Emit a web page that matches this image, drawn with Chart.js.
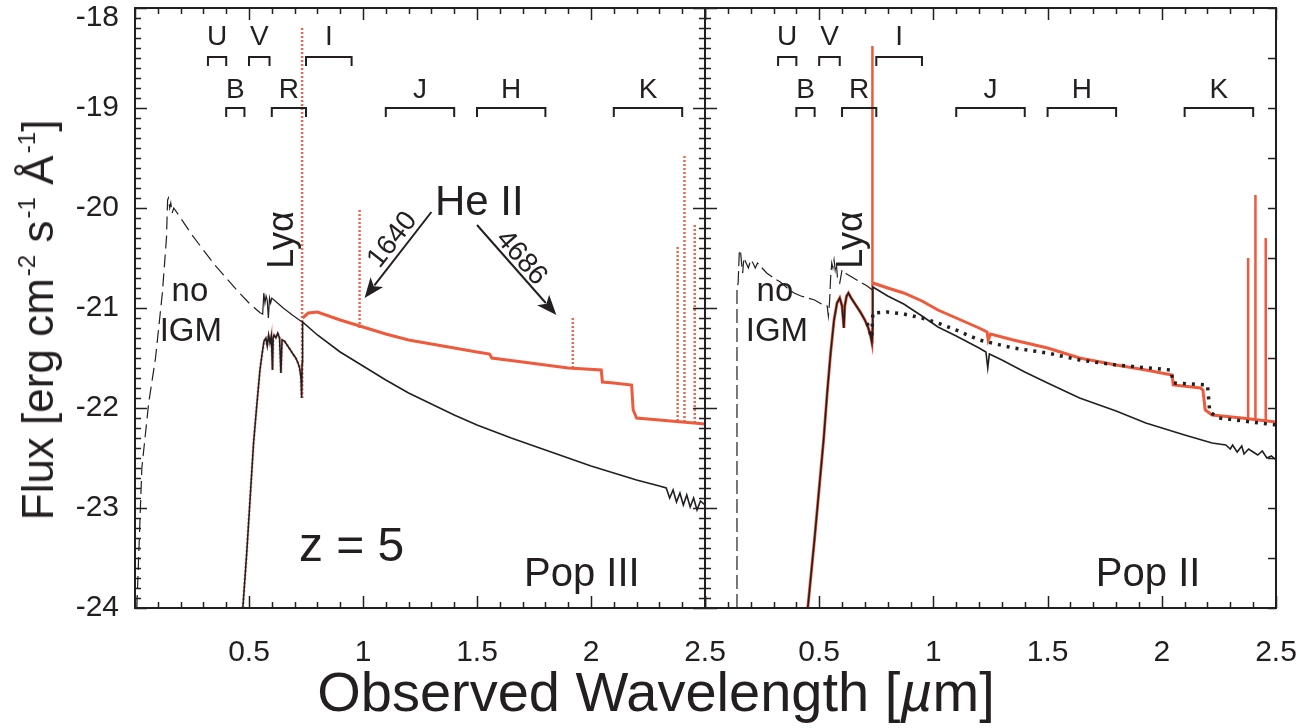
<!DOCTYPE html>
<html>
<head>
<meta charset="utf-8">
<title>Pop III / Pop II SEDs at z = 5</title>
<script src="https://cdn.jsdelivr.net/npm/chart.js@4.4.1/dist/chart.umd.min.js"></script>
<style>
  body { margin: 0; background: #fff; font-family: "Liberation Sans", Arial, Helvetica, sans-serif; color: #231f20; }
  #wrap { position: relative; width: 1305px; height: 728px; overflow: hidden; background: #fff; }
  #left { position: absolute; left: 0; top: 0; }
  #right { position: absolute; left: 680px; top: 0; }
  #ytitle { position: absolute; left: 38px; top: 320px; transform: translate(-50%, -50%) rotate(-90deg);
            font-size: 44px; white-space: nowrap; line-height: 1; }
  #ytitle sup { font-size: 0.55em; vertical-align: 0.75em; line-height: 0; margin-left: 2px; }
  #xtitle { position: absolute; left: 656px; top: 664px; transform: translateX(-50%);
            font-size: 56px; white-space: nowrap; line-height: 1; }
</style>
</head>
<body>
<div id="wrap">
  <canvas id="left" width="740" height="728"></canvas>
  <canvas id="right" width="625" height="728"></canvas>
  <div id="ytitle">Flux [erg cm<sup>-2</sup> s<sup>-1</sup> Å<sup>-1</sup>]</div>
  <div id="xtitle">Observed Wavelength [<i>µ</i>m]</div>
</div>
<script>
const ink = '#231f20';
const red = '#ef5a3c';
const fontFam = '"Liberation Sans", Arial, Helvetica, sans-serif';

// ---- photometric bands (µm) ----
const bandNames = ['U', 'B', 'V', 'R', 'I', 'J', 'H', 'K'];
const bandLo    = [0.32, 0.40, 0.50, 0.60, 0.75, 1.10, 1.50, 2.10];
const bandHi    = [0.40, 0.48, 0.59, 0.75, 0.95, 1.40, 1.80, 2.40];
const bandRow   = [0, 1, 0, 1, 0, 1, 1, 1];   // 0 = upper row

// ---- Pop III (left panel), log flux ----
const noIgmL_x = [0.008, 0.03, 0.06, 0.09, 0.12, 0.138, 0.143, 0.147, 0.152, 0.157, 0.163, 0.17, 0.2, 0.25, 0.3, 0.35, 0.4, 0.45, 0.5, 0.55,
                  0.56, 0.565, 0.57, 0.575, 0.58, 0.585, 0.59, 0.595, 0.6, 0.62, 0.65, 0.69, 0.733];
const noIgmL_y = [-24.0, -22.6, -21.95, -21.5, -20.85, -20.3, -19.92, -19.9, -20.0, -19.95, -20.05, -20.0, -20.1, -20.27, -20.42, -20.57, -20.7, -20.83, -20.95, -21.05,
                  -21.06, -20.85, -20.95, -20.88, -20.92, -21.1, -20.9, -20.95, -20.9, -20.94, -21.0, -21.07, -21.14];

const forestL_x = [0.473, 0.49, 0.505, 0.52, 0.535, 0.548, 0.558, 0.566, 0.574, 0.58, 0.586, 0.592, 0.598, 0.603, 0.606, 0.61, 0.618, 0.626, 0.634, 0.64, 0.645, 0.655, 0.67, 0.69, 0.705, 0.715, 0.722, 0.728, 0.731, 0.733];
const forestL_y = [-24.0, -23.45, -22.9, -22.35, -21.95, -21.62, -21.45, -21.33, -21.3, -21.38, -21.27, -21.35, -21.28, -21.62, -21.3, -21.27, -21.3, -21.25, -21.3, -21.65, -21.32, -21.33, -21.38, -21.45, -21.5, -21.55, -21.6, -21.7, -21.9, -21.55];

const contL_x = [0.735, 0.8, 0.9, 1.0, 1.1, 1.2, 1.3, 1.4, 1.5, 1.65, 1.8, 2.0, 2.2, 2.3, 2.33, 2.345, 2.36, 2.375, 2.39, 2.405, 2.42, 2.435, 2.45, 2.465, 2.48, 2.5];
const contL_y = [-21.14, -21.27, -21.44, -21.58, -21.72, -21.85, -21.96, -22.07, -22.17, -22.3, -22.42, -22.58, -22.72, -22.78, -22.8, -22.9, -22.82, -22.94, -22.85, -22.97, -22.87, -22.99, -22.9, -23.02, -22.93, -22.97];

const nebL_x = [0.735, 0.76, 0.8, 0.9, 1.0, 1.1, 1.2, 1.3, 1.4, 1.5, 1.555, 1.565, 1.7, 1.8, 1.9, 2.045, 2.05, 2.1, 2.178, 2.185, 2.2, 2.3, 2.4, 2.5];
const nebL_y = [-21.1, -21.05, -21.04, -21.12, -21.19, -21.26, -21.32, -21.36, -21.4, -21.44, -21.46, -21.5, -21.54, -21.57, -21.6, -21.62, -21.74, -21.75, -21.77, -22.02, -22.1, -22.12, -22.14, -22.16];

const lineWaveL = [0.733, 0.985, 1.92, 2.38, 2.41, 2.455];
const lineTopL  = [-18.2, -20.0, -21.1, -20.37, -19.47, -20.15];
const lineBaseL = [-21.9, -21.2, -21.6, -22.13, -22.14, -22.15];

// ---- Pop II (right panel), log flux ----
const noIgmR_x = [0.14, 0.14, 0.145, 0.15, 0.155, 0.16, 0.165, 0.17, 0.18, 0.19, 0.2, 0.21, 0.22, 0.23, 0.25, 0.27, 0.3, 0.33, 0.36, 0.39, 0.42, 0.45, 0.48, 0.51, 0.535,
                  0.54, 0.545, 0.55, 0.555, 0.56, 0.565, 0.57, 0.575, 0.58, 0.59, 0.6, 0.62, 0.65, 0.68, 0.71, 0.733];
const noIgmR_y = [-24.0, -20.8, -20.75, -20.45, -20.42, -20.55, -20.65, -20.5, -20.55, -20.6, -20.52, -20.55, -20.6, -20.55, -20.6, -20.65, -20.7, -20.74, -20.8, -20.85, -20.88, -20.9, -20.92, -20.96, -20.98,
                  -21.08, -20.95, -20.7, -20.55, -20.6, -20.52, -20.62, -20.55, -20.7, -20.75, -20.62, -20.66, -20.7, -20.74, -20.78, -20.82];

const forestR_x = [0.45, 0.48, 0.5, 0.52, 0.535, 0.55, 0.565, 0.578, 0.59, 0.6, 0.608, 0.612, 0.62, 0.628, 0.64, 0.66, 0.68, 0.7, 0.715, 0.725, 0.731, 0.734];
const forestR_y = [-24.0, -23.3, -22.8, -22.3, -21.85, -21.45, -21.12, -20.95, -20.9, -20.98, -21.2, -20.98, -20.88, -20.85, -20.9, -20.97, -21.04, -21.12, -21.2, -21.28, -21.35, -21.2];

const contR_x = [0.735, 0.8, 0.87, 0.95, 1.02, 1.1, 1.2, 1.23, 1.238, 1.245, 1.3, 1.4, 1.5, 1.64, 1.8, 1.93, 2.1, 2.22, 2.28, 2.3, 2.31, 2.33, 2.35, 2.36, 2.38, 2.4, 2.42, 2.44, 2.46, 2.48, 2.5];
const contR_y = [-20.79, -20.88, -20.96, -21.08, -21.19, -21.28, -21.4, -21.44, -21.6, -21.46, -21.52, -21.64, -21.75, -21.9, -22.03, -22.15, -22.27, -22.35, -22.37, -22.41, -22.37, -22.44, -22.38, -22.46, -22.41, -22.44, -22.47, -22.43, -22.5, -22.48, -22.52];

const nebR_x = [0.735, 0.8, 0.87, 0.95, 1.02, 1.1, 1.2, 1.235, 1.24, 1.25, 1.35, 1.5, 1.64, 1.8, 1.93, 2.045, 2.05, 2.17, 2.18, 2.19, 2.22, 2.35, 2.5];
const nebR_y = [-20.75, -20.8, -20.85, -20.93, -21.02, -21.1, -21.2, -21.24, -21.32, -21.26, -21.32, -21.4, -21.5, -21.57, -21.62, -21.67, -21.77, -21.8, -21.82, -22.02, -22.07, -22.1, -22.14];

const dotR_x = [0.71, 0.73, 0.735, 0.8, 0.87, 0.95, 1.02, 1.1, 1.2, 1.35, 1.5, 1.64, 1.8, 2.04, 2.05, 2.2, 2.21, 2.25, 2.5];
const dotR_y = [-21.15, -21.3, -21.05, -21.04, -21.06, -21.1, -21.15, -21.22, -21.32, -21.4, -21.45, -21.52, -21.57, -21.62, -21.75, -21.77, -22.04, -22.1, -22.17];

const lineWaveR = [0.733, 2.378, 2.41, 2.455];
const lineTopR  = [-18.38, -20.5, -19.87, -20.3];
const lineBaseR = [-21.35, -22.1, -22.12, -22.13];

// ---- helpers ----
function xy(xs, ys) { return xs.map((x, i) => ({ x: x, y: ys[i] })); }

function spikes(w, base, top) {
  const out = [];
  w.forEach((x, i) => { out.push({ x: x, y: base[i] }, { x: x, y: top[i] }, { x: x, y: null }); });
  return out;
}

const rowLevel = [-18.49, -19.0];
const legDrop = 0.09;
function bracketPts() {
  const out = [];
  bandNames.forEach((b, i) => {
    const lvl = rowLevel[bandRow[i]];
    out.push({ x: bandLo[i], y: lvl - legDrop }, { x: bandLo[i], y: lvl }, { x: bandHi[i], y: lvl }, { x: bandHi[i], y: lvl - legDrop }, { x: bandHi[i], y: null });
  });
  return out;
}

function line(data, color, width, dash, order, extra) {
  return Object.assign({ data: data, borderColor: color, borderWidth: width, borderDash: dash || [], order: order,
                         pointRadius: 0, fill: false, spanGaps: false, tension: 0 }, extra || {});
}

// frame with inward ticks (IDL style)
const framePlugin = {
  id: 'frame',
  afterDatasetsDraw(chart, args, opts) {
    const { ctx, chartArea: a, scales: { x, y } } = chart;
    ctx.save();
    ctx.strokeStyle = ink;
    ctx.lineWidth = 1.5;
    ctx.beginPath();
    for (let i = 0; i <= 25; i++) {
      const px = Math.round(x.getPixelForValue(i / 10)) + 0.5;
      const len = i % 5 === 0 ? 12 : 6;
      ctx.moveTo(px, a.bottom); ctx.lineTo(px, a.bottom - len);
      ctx.moveTo(px, a.top); ctx.lineTo(px, a.top + len);
    }
    for (let i = 0; i <= 60; i++) {
      const py = Math.round(y.getPixelForValue(-24 + i / 10)) + 0.5;
      const len = i % 10 === 0 ? 12 : 6;
      ctx.moveTo(a.left, py); ctx.lineTo(a.left + len, py);
      if (opts.rightDense) {
        ctx.moveTo(a.right, py); ctx.lineTo(a.right - len, py);
      } else if (i % 5 === 0) {
        ctx.moveTo(a.right, py); ctx.lineTo(a.right - 8, py);
      }
    }
    ctx.stroke();
    ctx.lineWidth = 2;
    ctx.strokeRect(a.left, a.top, a.right - a.left, a.bottom - a.top);

    if (opts.yLabels) {
      ctx.fillStyle = ink;
      ctx.font = '30px ' + fontFam;
      ctx.textAlign = 'right';
      ctx.textBaseline = 'middle';
      y.ticks.forEach(t => {
        const py = Math.max(y.getPixelForValue(t.value), 18);
        ctx.fillText(String(t.value), a.left - 16, py);
      });
    }
    ctx.restore();
  }
};

// text annotations, band labels and arrows in data coordinates
const notesPlugin = {
  id: 'notes',
  afterDatasetsDraw(chart, args, opts) {
    const { ctx, scales: { x, y } } = chart;
    ctx.save();
    ctx.fillStyle = ink;
    ctx.strokeStyle = ink;
    ctx.textAlign = 'center';
    ctx.textBaseline = 'middle';
    ctx.font = '28px ' + fontFam;
    bandNames.forEach((b, i) => {
      const ly = bandRow[i] === 0 ? -18.29 : -18.82;
      ctx.fillText(b, x.getPixelForValue((bandLo[i] + bandHi[i]) / 2), y.getPixelForValue(ly));
    });
    (opts.texts || []).forEach(n => {
      ctx.save();
      ctx.translate(x.getPixelForValue(n.x), y.getPixelForValue(n.y));
      if (n.rot) ctx.rotate(n.rot * Math.PI / 180);
      ctx.font = n.size + 'px ' + fontFam;
      ctx.fillText(n.text, 0, 0);
      ctx.restore();
    });
    (opts.arrows || []).forEach(ar => {
      const x0 = x.getPixelForValue(ar.x0), y0 = y.getPixelForValue(ar.y0);
      const x1 = x.getPixelForValue(ar.x1), y1 = y.getPixelForValue(ar.y1);
      const ang = Math.atan2(y1 - y0, x1 - x0);
      const hl = 20, hw = 8;
      ctx.lineWidth = 2;
      ctx.beginPath();
      ctx.moveTo(x0, y0);
      ctx.lineTo(x1 - hl * 0.8 * Math.cos(ang), y1 - hl * 0.8 * Math.sin(ang));
      ctx.stroke();
      ctx.beginPath();
      ctx.moveTo(x1, y1);
      ctx.lineTo(x1 - hl * Math.cos(ang) + hw * Math.sin(ang), y1 - hl * Math.sin(ang) - hw * Math.cos(ang));
      ctx.lineTo(x1 - hl * 0.75 * Math.cos(ang), y1 - hl * 0.75 * Math.sin(ang));
      ctx.lineTo(x1 - hl * Math.cos(ang) - hw * Math.sin(ang), y1 - hl * Math.sin(ang) + hw * Math.cos(ang));
      ctx.closePath();
      ctx.fill();
    });
    ctx.restore();
  }
};

function panel(id, padL, padR, datasets, frameOpts, noteOpts) {
  return new Chart(document.getElementById(id), {
    type: 'line',
    data: { datasets: datasets },
    options: {
      responsive: false,
      animation: false,
      events: [],
      layout: { padding: { left: padL, right: padR, top: 8, bottom: 0 } },
      plugins: { legend: { display: false }, tooltip: { enabled: false }, frame: frameOpts, notes: noteOpts },
      scales: {
        x: {
          type: 'linear', min: 0, max: 2.5,
          grid: { display: false, drawTicks: false },
          border: { display: false },
          ticks: { stepSize: 0.5, padding: 27, color: ink, autoSkip: false, maxRotation: 0,
                   font: { family: fontFam, size: 30 },
                   callback: v => (v === 0 ? '' : String(v)) },
          afterFit: s => { s.height = 120; s.paddingLeft = 0; s.paddingRight = 0; }
        },
        y: { type: 'linear', min: -24, max: -18, display: false, ticks: { stepSize: 1 } }
      }
    },
    plugins: [framePlugin, notesPlugin]
  });
}

// left: Pop III
panel('left', 135, 35, [
  line(bracketPts(), ink, 2, [], 1),
  line(xy(noIgmL_x, noIgmL_y), ink, 1.2, [], 2, {
    segment: { borderDash: c => (c.p0.parsed.x >= 0.55 ? [] : [13, 6]) }
  }),
  line(xy(forestL_x, forestL_y).concat(xy(contL_x, contL_y)), ink, 1.6, [], 2),
  line(xy(nebL_x, nebL_y), red, 3, [], 3),
  line(xy(forestL_x, forestL_y), 'rgba(239,98,71,0.55)', 3, [2, 2], 4),
  line(spikes(lineWaveL, lineBaseL, lineTopL), '#f0664b', 2.5, [2, 2], 3)
], { rightDense: true, yLabels: true }, {
  texts: [
    { text: 'Lyα', x: 0.648, y: -20.32, size: 36, rot: -90 },
    { text: 'no', x: 0.241, y: -20.84, size: 33 },
    { text: 'IGM', x: 0.245, y: -21.24, size: 33 },
    { text: 'He II', x: 1.51, y: -19.95, size: 42 },
    { text: '1640', x: 1.13, y: -20.32, size: 28, rot: -52 },
    { text: '4686', x: 1.694, y: -20.5, size: 28, rot: 49 },
    { text: 'z = 5', x: 0.95, y: -23.4, size: 48 },
    { text: 'Pop III', x: 1.96, y: -23.67, size: 40 }
  ],
  arrows: [
    { x0: 1.30, y0: -20.04, x1: 1.007, y1: -20.9 },
    { x0: 1.50, y0: -20.17, x1: 1.848, y1: -21.07 }
  ]
});

// right: Pop II
panel('right', 25, 29, [
  line(bracketPts(), ink, 2, [], 1),
  line(xy(dotR_x, dotR_y), ink, 3.5, [3, 6], 0),
  line(xy(noIgmR_x, noIgmR_y), ink, 1.2, [14, 5], 2),
  line(xy(forestR_x, forestR_y).concat(xy(contR_x, contR_y)), ink, 1.6, [], 1),
  line(xy(forestR_x, forestR_y), red, 3, [], 4),
  line(xy(nebR_x, nebR_y), red, 3, [], 3),
  line(spikes(lineWaveR, lineBaseR, lineTopR), red, 2.5, [], 3)
], { rightDense: false, yLabels: false }, {
  texts: [
    { text: 'Lyα', x: 0.644, y: -20.32, size: 36, rot: -90 },
    { text: 'no', x: 0.306, y: -20.84, size: 33 },
    { text: 'IGM', x: 0.315, y: -21.24, size: 33 },
    { text: 'Pop II', x: 1.94, y: -23.67, size: 40 }
  ]
});
</script>
</body>
</html>
